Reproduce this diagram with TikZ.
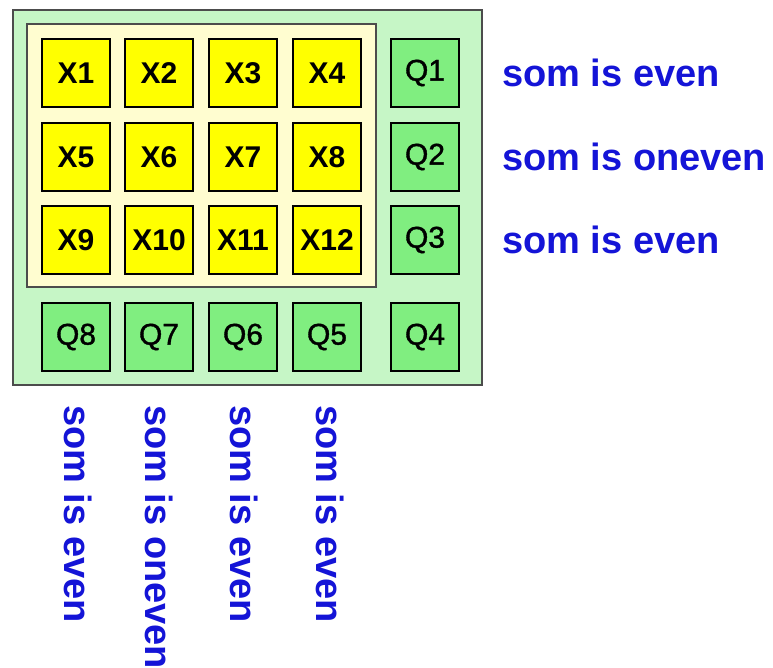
\documentclass[tikz,border=0pt]{standalone}
\usepackage{fontspec}
\setmainfont{Liberation Sans}
\newfontfamily\qfont[FakeBold=1.2]{Liberation Sans}
\definecolor{outergreen}{RGB}{198,246,198}
\definecolor{qgreen}{RGB}{128,238,128}
\definecolor{cream}{RGB}{255,253,208}
\definecolor{ycell}{RGB}{255,255,0}
\definecolor{txtblue}{RGB}{20,20,215}
\tikzset{
  xcell/.style={draw=black, line width=2.6pt, fill=ycell, minimum width=68pt, minimum height=68pt, inner sep=0pt, font=\fontsize{30}{30}\selectfont\bfseries},
  qcell/.style={draw=black, line width=2.6pt, fill=qgreen, minimum width=68pt, minimum height=68pt, inner sep=0pt, font=\qfont\fontsize{30}{30}\selectfont},
  lbl/.style={text=txtblue, font=\fontsize{38}{38}\selectfont\bfseries, inner sep=0pt},
}
\begin{document}
\begin{tikzpicture}[x=1pt,y=-1pt]
\useasboundingbox (0,0) rectangle (773,668);
\fill[white] (0,0) rectangle (773,668);
\draw[draw=black!70, line width=2pt, fill=outergreen] (13,10) rectangle (482,385);
\draw[draw=black!70, line width=2pt, fill=cream] (27,24) rectangle (376,287);
% X cells
\node[xcell] (x1) at (76,73) {X1};
\node[xcell] (x2) at (159,73) {X2};
\node[xcell] (x3) at (243,73) {X3};
\node[xcell] (x4) at (327,73) {X4};
\node[xcell] (x5) at (76,157) {X5};
\node[xcell] (x6) at (159,157) {X6};
\node[xcell] (x7) at (243,157) {X7};
\node[xcell] (x8) at (327,157) {X8};
\node[xcell] (x9) at (76,240) {X9};
\node[xcell] (x10) at (159,240) {X10};
\node[xcell] (x11) at (243,240) {X11};
\node[xcell] (x12) at (327,240) {X12};
% Q cells
\node[qcell] (q1) at (425,73) {Q1};
\node[qcell] (q2) at (425,157) {Q2};
\node[qcell] (q3) at (425,240) {Q3};
\node[qcell] (q4) at (425,337) {Q4};
\node[qcell] (q5) at (327,337) {Q5};
\node[qcell] (q6) at (243,337) {Q6};
\node[qcell] (q7) at (159,337) {Q7};
\node[qcell] (q8) at (76,337) {Q8};
% right labels
\node[lbl, anchor=west] (r1) at (502,73) {som is even};
\node[lbl, anchor=west] (r2) at (502,157) {som is oneven};
\node[lbl, anchor=west] (r3) at (502,240) {som is even};
% bottom labels
\node[lbl, rotate=-90, anchor=west] (b8) at (78,405) {som is even};
\node[lbl, rotate=-90, anchor=west] (b7) at (159,405) {som is oneven};
\node[lbl, rotate=-90, anchor=west] (b6) at (244,405) {som is even};
\node[lbl, rotate=-90, anchor=west] (b5) at (330,405) {som is even};
\end{tikzpicture}
\end{document}
